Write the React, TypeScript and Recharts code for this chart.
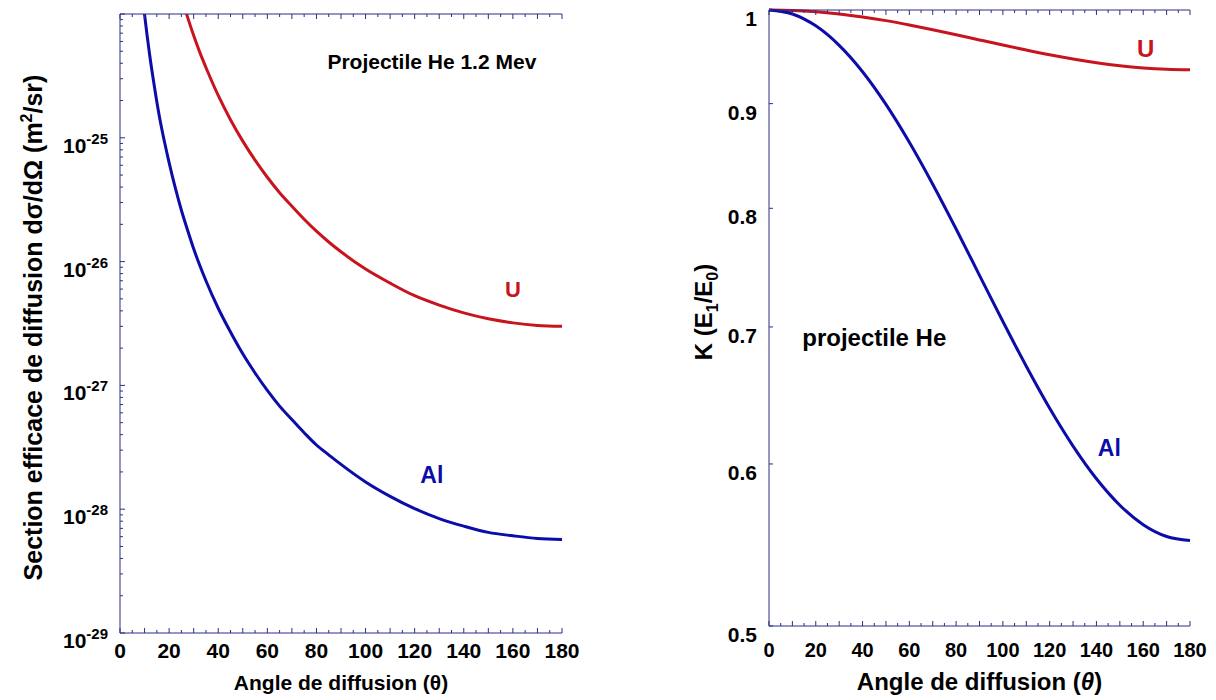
import { LineChart, Line, XAxis, YAxis, ReferenceDot, Label } from "recharts";

// ---- left panel: cross section (log scale) ----
const AL_ANGLES = [9, 10, 11, 12, 14, 16, 18, 20, 22.5, 25, 27.5, 30, 35, 40, 45, 50, 55, 60, 65, 70, 75, 80, 85, 90, 100, 110, 120, 130, 140, 150, 160, 170, 180];
const AL_SIGMA = [
	1.5e-24, 9.9e-25, 6.8e-25, 4.8e-25, 2.6e-25, 1.5e-25, 9.5e-26, 6.3e-26, 3.95e-26, 2.6e-26, 1.8e-26, 1.27e-26, 7.0e-27,
	4.2e-27, 2.7e-27, 1.8e-27, 1.26e-27, 9.1e-28, 6.8e-28, 5.3e-28, 4.15e-28, 3.3e-28, 2.75e-28, 2.3e-28, 1.66e-28, 1.27e-28,
	1.01e-28, 8.4e-29, 7.3e-29, 6.5e-29, 6.1e-29, 5.8e-29, 5.7e-29,
];
const U_ANGLES = [26, 28, 30, 32.5, 35, 40, 45, 50, 55, 60, 65, 70, 75, 80, 85, 90, 100, 110, 120, 130, 140, 150, 160, 170, 180];
const U_SIGMA = [
	1.17e-24, 8.8e-25, 6.7e-25, 4.9e-25, 3.7e-25, 2.2e-25, 1.4e-25, 9.4e-26, 6.6e-26, 4.8e-26, 3.6e-26, 2.8e-26, 2.2e-26,
	1.76e-26, 1.44e-26, 1.2e-26, 8.7e-27, 6.7e-27, 5.3e-27, 4.45e-27, 3.85e-27, 3.45e-27, 3.2e-27, 3.05e-27, 3.0e-27,
];
const SIGMA_DOMAIN = [1e-29, 1e-24];
const SIGMA_MAJOR = [1e-29, 1e-28, 1e-27, 1e-26, 1e-25, 1e-24];

// ---- right panel: kinematic factor ----
const K_ANGLES = [0, 10, 20, 30, 40, 50, 60, 70, 80, 90, 100, 110, 120, 130, 140, 150, 160, 170, 180];
const K_AL = [1, 0.9955, 0.9823, 0.961, 0.9329, 0.8992, 0.8617, 0.822, 0.7816, 0.7419, 0.7043, 0.6697, 0.6388, 0.6122, 0.5901, 0.5728, 0.5604, 0.553, 0.5505];
const K_U = [1, 0.9995, 0.998, 0.9955, 0.9922, 0.9881, 0.9833, 0.9781, 0.9726, 0.9669, 0.9613, 0.9559, 0.9508, 0.9463, 0.9424, 0.9392, 0.9369, 0.9355, 0.935];
const K_TICKS = [0.5, 0.6, 0.7, 0.8, 0.9, 1];

const ANGLE_TICKS = Array.from({ length: 37 }, (_, i) => i * 5);

const alData = AL_ANGLES.map((a, i) => ({ angle: a, v: AL_SIGMA[i] }));
const uData = U_ANGLES.map((a, i) => ({ angle: a, v: U_SIGMA[i] }));
const kAlData = K_ANGLES.map((a, i) => ({ angle: a, v: K_AL[i] }));
const kUData = K_ANGLES.map((a, i) => ({ angle: a, v: K_U[i] }));

const sigmaTicks: number[] = [];
SIGMA_MAJOR.forEach((d, i) => {
	sigmaTicks.push(d);
	if (i < SIGMA_MAJOR.length - 1) for (let m = 2; m <= 9; m++) sigmaTicks.push(d * m);
});

const NAVY = "#2d2d86";
const RED = "#c8141e";
const BLUE = "#0c0ca8";
const FONT = "'Liberation Sans', Arial, Helvetica, sans-serif";

type Side = "bottom" | "top" | "left" | "right";

function makeTick(side: Side, len: (v: number) => number, label?: (x: number, y: number, v: number) => any) {
	return (p: any) => {
		const { x, y, payload } = p;
		const v = payload.value;
		const l = len(v);
		let x2 = x;
		let y2 = y;
		if (side === "bottom") y2 = y - l;
		if (side === "top") y2 = y + l;
		if (side === "left") x2 = x + l;
		if (side === "right") x2 = x - l;
		return (
			<g>
				{l > 0 && <line x1={x} y1={y} x2={x2} y2={y2} stroke={NAVY} strokeWidth={1} />}
				{label ? label(x, y, v) : null}
			</g>
		);
	};
}

const degLen = (v: number) => (v % 10 === 0 ? 5 : 3);
const isDecade = (v: number) => Math.abs(Math.log10(v) - Math.round(Math.log10(v))) < 1e-6;
const sigmaLen = (v: number) => (isDecade(v) ? 5 : 3);

const degLabel = (size: number, dy: number) => (x: number, y: number, v: number) =>
	v % 20 === 0 ? (
		<text x={x} y={y + dy} textAnchor="middle" fontSize={size} fontWeight="bold" fontFamily={FONT} fill="#000">
			{v}
		</text>
	) : null;

const sigmaLabel = (x: number, y: number, v: number) => {
	if (!isDecade(v) || v > 5e-25) return null;
	const e = Math.round(Math.log10(v));
	return (
		<text x={x - 12} y={y + 15} textAnchor="end" fontWeight="bold" fontFamily={FONT} fill="#000">
			<tspan fontSize={21}>10</tspan>
			<tspan fontSize={15} dy={-9}>
				{e}
			</tspan>
		</text>
	);
};

const kLabel = (x: number, y: number, v: number) => (
	<text x={x - 12} y={y + 16} textAnchor="end" fontSize={21} fontWeight="bold" fontFamily={FONT} fill="#000">
		{v}
	</text>
);

function note(text: string, color: string, size: number) {
	return (p: any) => (
		<text
			x={p.viewBox.x}
			y={p.viewBox.y}
			textAnchor="middle"
			dominantBaseline="central"
			fontSize={size}
			fontWeight="bold"
			fontFamily={FONT}
			fill={color}>
			{text}
		</text>
	);
}

function SectionChart() {
	return (
		<LineChart width={600} height={700} margin={{ top: 13, right: 38, bottom: 0, left: 0 }}>
			<XAxis
				xAxisId="b"
				type="number"
				dataKey="angle"
				domain={[0, 180]}
				ticks={ANGLE_TICKS}
				interval={0}
				height={67}
				tickSize={0}
				tickMargin={0}
				tickLine={false}
				stroke={NAVY}
				tick={makeTick("bottom", degLen, degLabel(21, 25))}>
				<Label
					content={(p: any) => (
						<text
							x={p.viewBox.x + p.viewBox.width / 2}
							y={p.viewBox.y + 57}
							textAnchor="middle"
							fontSize={21}
							fontWeight="bold"
							fontFamily={FONT}>
							Angle de diffusion (θ)
						</text>
					)}
				/>
			</XAxis>
			<XAxis
				xAxisId="t"
				orientation="top"
				type="number"
				dataKey="angle"
				domain={[0, 180]}
				allowDataOverflow
				ticks={ANGLE_TICKS}
				interval={0}
				height={1}
				tickSize={0}
				tickMargin={0}
				tickLine={false}
				stroke={NAVY}
				tick={makeTick("top", degLen)}
			/>
			<YAxis
				yAxisId="l"
				scale="log"
				domain={SIGMA_DOMAIN}
				allowDataOverflow
				ticks={sigmaTicks}
				interval={0}
				width={120}
				tickSize={0}
				tickMargin={0}
				tickLine={false}
				stroke={NAVY}
				tick={makeTick("left", sigmaLen, sigmaLabel)}>
				<Label
					content={(p: any) => {
						const cx = p.viewBox.x + 42;
						const cy = p.viewBox.y + p.viewBox.height / 2 + 4;
						return (
							<text
								x={cx}
								y={cy}
								transform={`rotate(-90, ${cx}, ${cy})`}
								textAnchor="middle"
								fontSize={25}
								fontWeight="bold"
								fontFamily={FONT}>
								Section efficace de diffusion dσ/dΩ (m
								<tspan fontSize={16} dy={-10}>
									2
								</tspan>
								<tspan dy={10}>/sr)</tspan>
							</text>
						);
					}}
				/>
			</YAxis>
			<YAxis
				yAxisId="r"
				orientation="right"
				scale="log"
				domain={SIGMA_DOMAIN}
				allowDataOverflow
				ticks={sigmaTicks}
				interval={0}
				width={0}
				tickSize={0}
				tickMargin={0}
				tickLine={false}
				stroke={NAVY}
				tick={makeTick("right", sigmaLen)}
			/>
			<Line
				xAxisId="b"
				yAxisId="l"
				data={uData}
				dataKey="v"
				type="monotone"
				stroke={RED}
				strokeWidth={3}
				dot={false}
				isAnimationActive={false}
			/>
			<Line
				xAxisId="b"
				yAxisId="l"
				data={alData}
				dataKey="v"
				type="monotone"
				stroke={BLUE}
				strokeWidth={3}
				dot={false}
				isAnimationActive={false}
			/>
			<ReferenceDot xAxisId="b" yAxisId="l" x={127} y={4.1e-25} r={0} fill="none" stroke="none">
				<Label content={note("Projectile He 1.2 Mev", "#000", 21)} />
			</ReferenceDot>
			<ReferenceDot xAxisId="b" yAxisId="l" x={160} y={5.9e-27} r={0} fill="none" stroke="none">
				<Label content={note("U", RED, 22)} />
			</ReferenceDot>
			<ReferenceDot xAxisId="b" yAxisId="l" x={127} y={1.9e-28} r={0} fill="none" stroke="none">
				<Label content={note("Al", BLUE, 23)} />
			</ReferenceDot>
		</LineChart>
	);
}

function KChart() {
	return (
		<LineChart width={616} height={700} margin={{ top: 9, right: 26, bottom: 0, left: 0 }}>
			<XAxis
				xAxisId="b"
				type="number"
				dataKey="angle"
				domain={[0, 180]}
				ticks={ANGLE_TICKS}
				interval={0}
				height={74}
				tickSize={0}
				tickMargin={0}
				tickLine={false}
				stroke={NAVY}
				tick={makeTick("bottom", degLen, degLabel(20, 31))}>
				<Label
					content={(p: any) => (
						<text
							x={p.viewBox.x + p.viewBox.width / 2}
							y={p.viewBox.y + 64}
							textAnchor="middle"
							fontSize={24}
							fontWeight="bold"
							fontFamily={FONT}>
							Angle de diffusion (<tspan fontStyle="italic">θ</tspan>)
						</text>
					)}
				/>
			</XAxis>
			<XAxis
				xAxisId="t"
				orientation="top"
				type="number"
				dataKey="angle"
				domain={[0, 180]}
				allowDataOverflow
				ticks={ANGLE_TICKS}
				interval={0}
				height={1}
				tickSize={0}
				tickMargin={0}
				tickLine={false}
				stroke={NAVY}
				tick={makeTick("top", degLen)}
			/>
			<YAxis
				yAxisId="l"
				scale="log"
				domain={[0.5, 1]}
				ticks={K_TICKS}
				interval={0}
				width={169}
				tickSize={0}
				tickMargin={0}
				tickLine={false}
				stroke={NAVY}
				tick={makeTick("left", () => 4, kLabel)}>
				<Label
					content={(p: any) => {
						const cx = p.viewBox.x + 112;
						const cy = p.viewBox.y + p.viewBox.height / 2 - 6;
						return (
							<text
								x={cx}
								y={cy}
								transform={`rotate(-90, ${cx}, ${cy})`}
								textAnchor="middle"
								fontSize={24}
								fontWeight="bold"
								fontFamily={FONT}>
								K (E
								<tspan fontSize={16} dy={6}>
									1
								</tspan>
								<tspan dy={-6}>/E</tspan>
								<tspan fontSize={16} dy={6}>
									0
								</tspan>
								<tspan dy={-6}>)</tspan>
							</text>
						);
					}}
				/>
			</YAxis>
			<YAxis
				yAxisId="r"
				orientation="right"
				scale="log"
				domain={[0.5, 1]}
				ticks={K_TICKS}
				interval={0}
				width={0}
				tickSize={0}
				tickMargin={0}
				tickLine={false}
				stroke={NAVY}
				tick={makeTick("right", () => 4)}
			/>
			<Line
				xAxisId="b"
				yAxisId="l"
				data={kUData}
				dataKey="v"
				type="monotone"
				stroke={RED}
				strokeWidth={3}
				dot={false}
				isAnimationActive={false}
			/>
			<Line
				xAxisId="b"
				yAxisId="l"
				data={kAlData}
				dataKey="v"
				type="monotone"
				stroke={BLUE}
				strokeWidth={3}
				dot={false}
				isAnimationActive={false}
			/>
			<ReferenceDot xAxisId="b" yAxisId="l" x={45} y={0.692} r={0} fill="none" stroke="none">
				<Label content={note("projectile He", "#000", 24)} />
			</ReferenceDot>
			<ReferenceDot xAxisId="b" yAxisId="l" x={161} y={0.958} r={0} fill="none" stroke="none">
				<Label content={note("U", RED, 24)} />
			</ReferenceDot>
			<ReferenceDot xAxisId="b" yAxisId="l" x={145.5} y={0.611} r={0} fill="none" stroke="none">
				<Label content={note("Al", BLUE, 23)} />
			</ReferenceDot>
		</LineChart>
	);
}

export default function App() {
	return (
		<div style={{ position: "relative", width: 1216, height: 700, background: "#fff" }}>
			<style>{`body{margin:0}`}</style>
			<div style={{ position: "absolute", left: 0, top: 0 }}>
				<SectionChart />
			</div>
			<div style={{ position: "absolute", left: 600, top: 0 }}>
				<KChart />
			</div>
		</div>
	);
}
